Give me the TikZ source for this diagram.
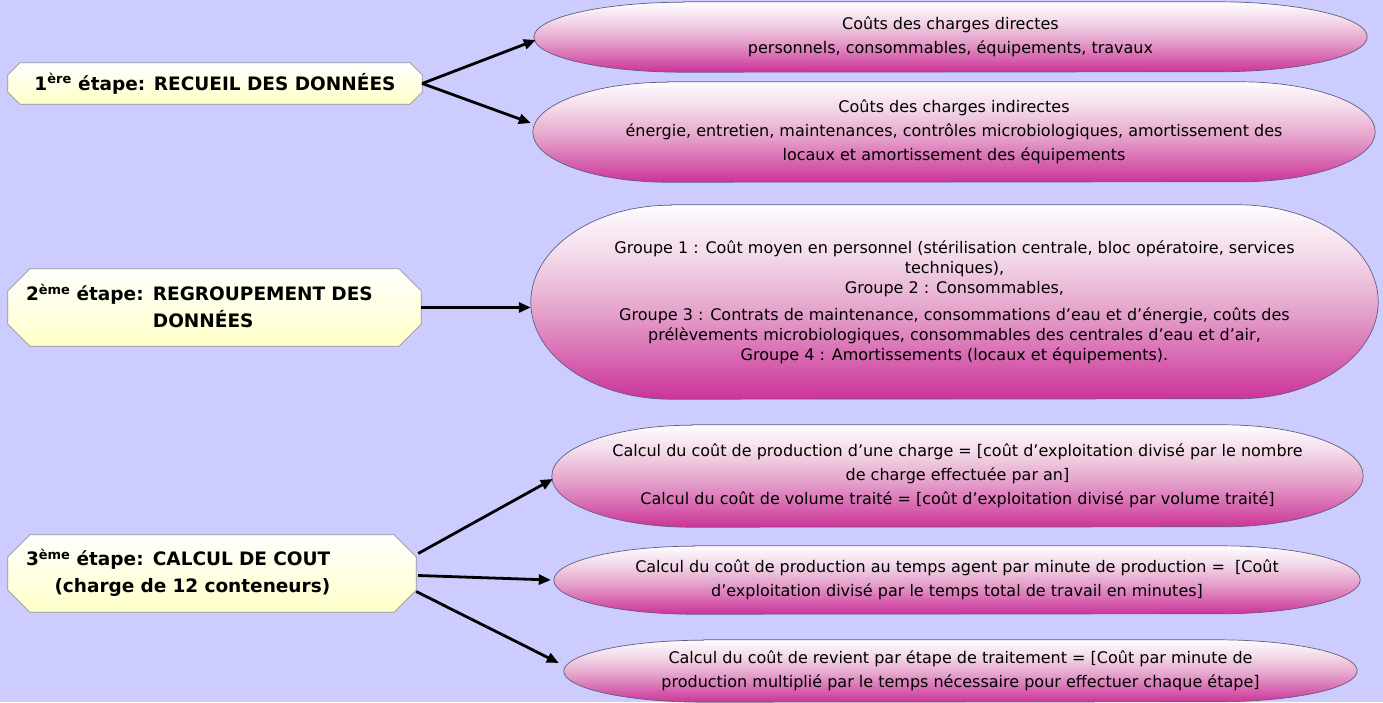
\documentclass[tikz,border=0pt]{standalone}
\usepackage{fontspec}
\setmainfont{DejaVu Sans}
\usetikzlibrary{arrows.meta}
\pgfdeclarelayer{background}
\pgfsetlayers{background,main}
\definecolor{backColor}{RGB}{204,204,255}
\definecolor{boxLine}{RGB}{150,150,150}
\definecolor{boxBottom}{RGB}{255,255,200}
\definecolor{bubbleLine}{RGB}{95,95,125}
\definecolor{bubbleTop}{RGB}{255,252,255}
\definecolor{bubbleLight}{RGB}{243,218,233}
\definecolor{bubbleMid}{RGB}{228,160,202}
\definecolor{bubbleBottom}{RGB}{204,51,153}
\pgfdeclareverticalshading{bubbleShade}{100bp}{color(0bp)=(bubbleBottom); color(25bp)=(bubbleBottom);
  color(47bp)=(bubbleMid); color(62bp)=(bubbleLight); color(75bp)=(bubbleTop); color(100bp)=(bubbleTop)}
\tikzset{
  stepText/.style={inner ysep=0pt, inner xsep=18pt, font=\bfseries\fontsize{18.5}{27}\selectfont},
  stepBox/.style={draw=boxLine, line width=0.7pt, top color=white, bottom color=boxBottom},
  costText/.style={inner sep=0pt, align=center, font=\fontsize{16}{24}\selectfont},
  bubble/.style={draw=bubbleLine, line width=0.7pt, shading=bubbleShade},
  link/.style={line width=2.8pt, -{Triangle[length=12pt,width=10pt]}}
}
\newcommand{\stepPath}[2]{%
  \path[stepBox] ([xshift=#2]#1.north west) -- ([xshift=-#2]#1.north east)
    -- ([yshift=-#2]#1.north east) -- ([yshift=#2]#1.south east)
    -- ([xshift=-#2]#1.south east) -- ([xshift=#2]#1.south west)
    -- ([yshift=#2]#1.south west) -- ([yshift=-#2]#1.north west) -- cycle;}
\newcommand{\bubblePath}[3]{%
  \path[bubble] ([xshift=#2]#1.north west) -- ([xshift=-#2]#1.north east)
    arc[start angle=90, end angle=-90, x radius=#2, y radius=#3]
    -- ([xshift=#2]#1.south west)
    arc[start angle=270, end angle=90, x radius=#2, y radius=#3] -- cycle;}
\begin{document}
\begin{tikzpicture}[x=1pt,y=1pt]
\path[use as bounding box] (0,0) rectangle (1383,702);

\node[stepText, align=center, minimum width=414pt, minimum height=41pt] (recueil) at (215,618.5)
  {1\textsuperscript{ère} étape: RECUEIL DES DONNÉES};
\node[stepText, align=left, text width=377pt, minimum height=77pt] (regroupement) at (214.5,394.5)
  {2\textsuperscript{ème} étape: REGROUPEMENT DES\\\phantom{2\textsuperscript{ème} étape: }DONNÉES};
\node[stepText, align=left, text width=372pt, minimum height=77pt] (calcul) at (212,128.5)
  {\begin{tabular}{@{}r@{}}3\textsuperscript{ème} étape: CALCUL DE COUT\\(charge de 12 conteneurs)\end{tabular}};

\node[costText, minimum width=833pt, minimum height=70pt] (directes) at (950.5,665)
  {Coûts des charges directes\\personnels, consommables, équipements, travaux};
\node[costText, minimum width=842pt, minimum height=100pt] (indirectes) at (954,570)
  {Coûts des charges indirectes\\énergie, entretien, maintenances, contrôles microbiologiques, amortissement des\\locaux et amortissement des équipements};
\node[costText, font=\fontsize{16}{20}\selectfont, minimum width=847pt, minimum height=194pt] (groupes) at (954.5,400)
  {Groupe 1 : Coût moyen en personnel (stérilisation centrale, bloc opératoire, services\\techniques),\\Groupe 2 : Consommables,\\[7pt]Groupe 3 : Contrats de maintenance, consommations d’eau et d’énergie, coûts des\\prélèvements microbiologiques, consommables des centrales d’eau et d’air,\\Groupe 4 : Amortissements (locaux et équipements).};
\node[costText, minimum width=811pt, minimum height=102pt] (production) at (957.5,226)
  {Calcul du coût de production d’une charge = [coût d’exploitation divisé par le nombre\\de charge effectuée par an]\\Calcul du coût de volume traité = [coût d’exploitation divisé par volume traité]};
\node[costText, minimum width=806pt, minimum height=68pt] (agent) at (957,122)
  {Calcul du coût de production au temps agent par minute de production =~~[Coût\\d’exploitation divisé par le temps total de travail en minutes]};
\node[costText, minimum width=793pt, minimum height=62pt] (revient) at (960.5,31)
  {Calcul du coût de revient par étape de traitement = [Coût par minute de\\production multiplié par le temps nécessaire pour effectuer chaque étape]};

\begin{pgfonlayer}{background}
\fill[backColor] (0,0) rectangle (1383,702);
\stepPath{recueil}{12pt}
\stepPath{regroupement}{22pt}
\stepPath{calcul}{22pt}
\bubblePath{directes}{150pt}{35pt}
\bubblePath{indirectes}{135pt}{50pt}
\bubblePath{groupes}{140pt}{97pt}
\bubblePath{production}{140pt}{51pt}
\bubblePath{agent}{140pt}{34pt}
\bubblePath{revient}{140pt}{31pt}
\end{pgfonlayer}

\draw[link] (recueil.east) -- ([xshift=2pt,yshift=-3pt]directes.west);
\draw[link] (recueil.east) -- ([xshift=-2pt,yshift=9pt]indirectes.west);
\draw[link] (regroupement.east) -- (regroupement.east -| groupes.west);
\draw[link] ([xshift=2pt,yshift=20pt]calcul.east) -- ([xshift=1pt,yshift=-3pt]production.west);
\draw[link] ([xshift=2pt,yshift=-2pt]calcul.east) -- ([xshift=-3pt]agent.west);
\draw[link] ([yshift=-18pt]calcul.east) -- ([xshift=-5pt,yshift=8pt]revient.west);
\end{tikzpicture}
\end{document}
